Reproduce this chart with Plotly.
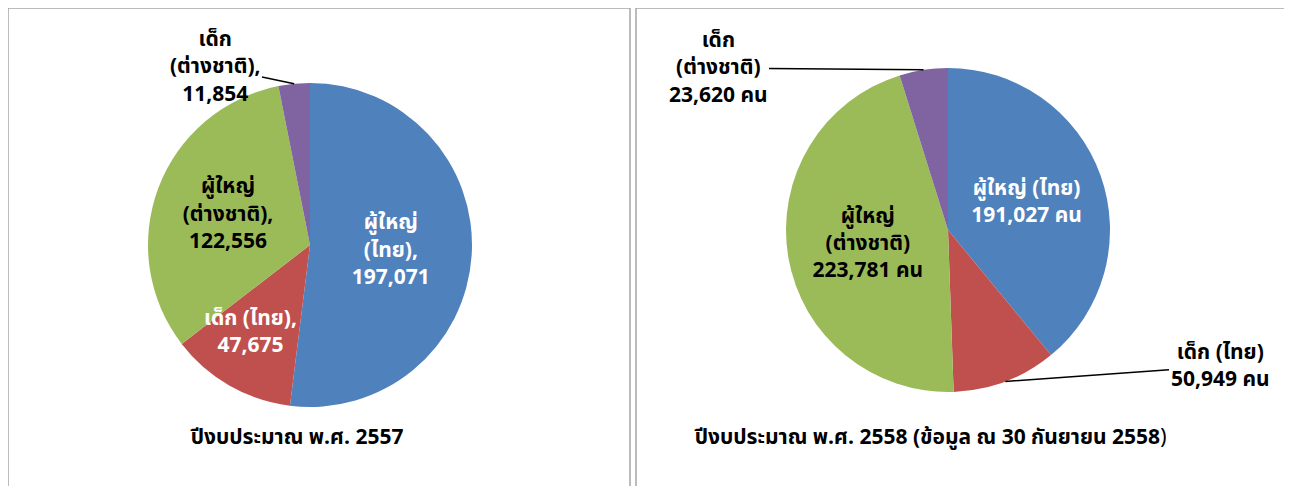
import math
import plotly.graph_objects as go

# ---------------- data ----------------
categories = ["ผู้ใหญ่ (ไทย)", "เด็ก (ไทย)", "ผู้ใหญ่ (ต่างชาติ)", "เด็ก (ต่างชาติ)"]
values_2557 = [197071, 47675, 122556, 11854]
values_2558 = [191027, 50949, 223781, 23620]
labels_2557 = ["ผู้ใหญ่<br>(ไทย),<br>197,071", "เด็ก (ไทย),<br>47,675",
               "ผู้ใหญ่<br>(ต่างชาติ),<br>122,556", "เด็ก<br>(ต่างชาติ),<br>11,854"]
labels_2558 = ["ผู้ใหญ่ (ไทย)<br>191,027 คน", "เด็ก (ไทย)<br>50,949 คน",
               "ผู้ใหญ่<br>(ต่างชาติ)<br>223,781 คน", "เด็ก<br>(ต่างชาติ)<br>23,620 คน"]
title_2557 = "ปีงบประมาณ พ.ศ. 2557"
title_2558 = "ปีงบประมาณ พ.ศ. 2558 (ข้อมูล ณ 30 กันยายน 2558"
colors = ["#4F81BD", "#C0504D", "#9BBB59", "#8064A2"]

# page body has an 8px margin: shrink the figure and shift coordinates
OFF = 8
W, H = 1292 - OFF, 486 - OFF
FONT = "Tahoma, 'Noto Sans Thai', 'Noto Sans', 'DejaVu Sans', sans-serif"
FS = 21


def px(x):
    return (x - OFF) / W


def py(y):
    return 1 - (y - OFF) / H


def bold_lines(s):
    return "<br>".join("<b>" + t + "</b>" for t in s.split("<br>"))


# pie geometry in page pixels (center x, center y, radius)
pie_L = (310, 245, 162)
pie_R = (948, 230, 162)


def dom(p):
    cx, cy, r = p
    return dict(x=[px(cx - r), px(cx + r)], y=[py(cy + r), py(cy - r)])


def slice_point(p, vals, idx, frac=1.0):
    cx, cy, r = p
    tot = sum(vals)
    start = sum(vals[:idx]) / tot
    mid = start + vals[idx] / tot / 2
    ang = 2 * math.pi * mid
    return cx + frac * r * math.sin(ang), cy - frac * r * math.cos(ang)


fig = go.Figure()

fig.add_trace(go.Pie(
    labels=categories, values=values_2557, text=[bold_lines(t) for t in labels_2557],
    textinfo="text", sort=False, direction="clockwise", rotation=0,
    marker=dict(colors=colors, line=dict(color="white", width=0)),
    textposition=["inside", "none", "inside", "none"],
    insidetextorientation="horizontal",
    insidetextfont=dict(color=["white", "white", "black", "black"], size=FS, family=FONT),
    domain=dom(pie_L), showlegend=False, hoverinfo="label+value",
))

fig.add_trace(go.Pie(
    labels=categories, values=values_2558, text=[bold_lines(t) for t in labels_2558],
    textinfo="text", sort=False, direction="clockwise", rotation=0,
    marker=dict(colors=colors, line=dict(color="white", width=0)),
    textposition=["inside", "none", "inside", "none"],
    insidetextorientation="horizontal",
    insidetextfont=dict(color=["white", "white", "black", "black"], size=FS, family=FONT),
    domain=dom(pie_R), showlegend=False, hoverinfo="label+value",
))

annotations = []


def outside_label(p, vals, idx, text, tx, ty):
    ex, ey = slice_point(p, vals, idx)
    annotations.append(dict(
        x=px(ex), y=py(ey), xref="paper", yref="paper",
        ax=tx - ex, ay=ty - ey, axref="pixel", ayref="pixel",
        text=bold_lines(text), showarrow=True, arrowhead=0, arrowwidth=1.5, arrowcolor="black",
        font=dict(size=FS, color="black", family=FONT), align="center",
    ))


outside_label(pie_L, values_2557, 3, labels_2557[3], 215, 67)
outside_label(pie_R, values_2558, 3, labels_2558[3], 718, 68)
outside_label(pie_R, values_2558, 1, labels_2558[1], 1220, 366)

# red slice label of the left pie, placed inside the slice at full size
rx, ry = slice_point(pie_L, values_2557, 1, 0.62)
annotations.append(dict(x=px(rx), y=py(ry), xref="paper", yref="paper",
                        xanchor="center", yanchor="middle", showarrow=False, xshift=-10,
                        text=bold_lines(labels_2557[1]), align="center",
                        font=dict(size=FS, color="white", family=FONT)))

annotations.append(dict(x=px(296), y=py(437), xref="paper", yref="paper",
                        xanchor="center", yanchor="middle",
                        text="<b>" + title_2557 + "</b>",
                        showarrow=False, font=dict(size=FS, color="black", family=FONT)))
annotations.append(dict(x=px(930), y=py(437), xref="paper", yref="paper",
                        xanchor="center", yanchor="middle",
                        text="<b>" + title_2558 + "</b>)",
                        showarrow=False, font=dict(size=FS, color="black", family=FONT)))

shapes = [
    dict(type="rect", xref="paper", yref="paper", x0=px(8), x1=px(630), y0=py(500), y1=py(8),
         line=dict(color="#A6A6A6", width=1.5)),
    dict(type="rect", xref="paper", yref="paper", x0=px(636), x1=px(1285), y0=py(500), y1=py(8),
         line=dict(color="#A6A6A6", width=1.5)),
]

fig.update_layout(
    width=W, height=H, margin=dict(l=0, r=0, t=0, b=0),
    paper_bgcolor="white", plot_bgcolor="white",
    font=dict(family=FONT, size=FS, color="black"),
    annotations=annotations, shapes=shapes,
)

fig.write_html("out.html")
